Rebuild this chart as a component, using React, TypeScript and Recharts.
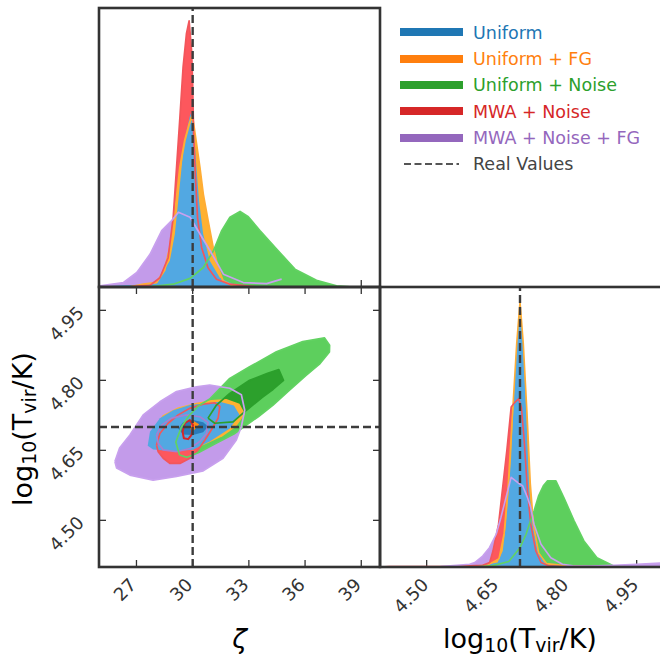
import React from 'react';
import { ComposedChart, Scatter, XAxis, YAxis, ReferenceLine } from 'recharts';

type Pt = [number, number];

const zetaTicks = [27, 30, 33, 36, 39];
const tvirTicks = [4.5, 4.65, 4.8, 4.95];
const zetaRange: [number, number] = [25, 40];
const tvirRange: [number, number] = [4.4, 5.0];
const pdfRange: [number, number] = [0, 1];
const trueZeta = 30;
const trueTvir = 4.7;

const runNames = ['Uniform', 'Uniform + FG', 'Uniform + Noise', 'MWA + Noise', 'MWA + Noise + FG'];
const runColors = ['#1f77b4', '#ff7f0e', '#2ca02c', '#d62728', '#9467bd'];
const realLabel = 'Real Values';

// 1D marginal of zeta (normalised to panel height)
const zetaUniform: Pt[] = [
  [25, 0], [25.06, 0.002], [26.3, 0.006], [27.2, 0.008], [27.72, 0.01], [28.25, 0.033], [28.78, 0.094],
  [29.05, 0.19], [29.23, 0.309], [29.5, 0.49], [29.64, 0.549], [29.88, 0.622], [30.0, 0.6], [30.08, 0.549],
  [30.2, 0.429], [30.34, 0.309], [30.56, 0.19], [30.91, 0.094], [31.45, 0.033], [32.2, 0.01], [33.0, 0.004],
  [34.5, 0.003], [37, 0.002], [38.75, 0.001], [39, 0],
];
const zetaUniformFG: Pt[] = [
  [26.66, 0], [27.37, 0.01], [28.07, 0.016], [28.5, 0.06], [28.78, 0.141], [29.05, 0.261], [29.32, 0.429],
  [29.58, 0.525], [29.8, 0.58], [29.94, 0.609], [30.02, 0.597], [30.2, 0.513], [30.38, 0.429], [30.56, 0.333],
  [30.82, 0.237], [31.09, 0.141], [31.36, 0.069], [31.62, 0.022], [32.16, 0.004], [33, 0],
];
const zetaUniformNoise: Pt[] = [
  [27.55, 0], [28.97, 0.01], [29.86, 0.031], [30.57, 0.07], [31.11, 0.13], [31.55, 0.202], [31.99, 0.25],
  [32.53, 0.271], [32.97, 0.252], [33.59, 0.202], [34.48, 0.136], [35.46, 0.064], [36.61, 0.024],
  [37.68, 0.004], [38.57, 0],
];
const zetaMwaNoise: Pt[] = [
  [26.5, 0], [27.2, 0.004], [27.72, 0.006], [28.25, 0.033], [28.69, 0.105], [28.96, 0.249], [29.14, 0.429],
  [29.32, 0.609], [29.49, 0.789], [29.67, 0.909], [29.81, 0.954], [29.94, 0.849], [30.0, 0.729],
  [30.05, 0.549], [30.14, 0.405], [30.26, 0.249], [30.48, 0.141], [30.82, 0.069], [31.27, 0.028],
  [31.98, 0.01], [32.87, 0.004], [33.5, 0],
];
const zetaMwaNoiseFG: Pt[] = [
  [25, 0.002], [25.06, 0.004], [26.31, 0.016], [27.02, 0.052], [27.73, 0.118], [28.35, 0.202], [28.88, 0.238],
  [29.24, 0.268], [29.86, 0.25], [30.39, 0.19], [30.93, 0.13], [31.64, 0.046], [32.7, 0.016], [33.95, 0.012],
  [34.75, 0.028],
];

// 1D marginal of log10(Tvir)
const tvirUniform: Pt[] = [
  [4.4, 0], [4.45, 0.002], [4.55, 0.003], [4.592, 0.004], [4.62, 0.006], [4.652, 0.016], [4.663, 0.057],
  [4.67, 0.153], [4.676, 0.272], [4.681, 0.392], [4.686, 0.571], [4.691, 0.75], [4.696, 0.87], [4.7, 0.9],
  [4.704, 0.87], [4.708, 0.75], [4.713, 0.571], [4.717, 0.392], [4.72, 0.272], [4.727, 0.153],
  [4.738, 0.057], [4.752, 0.016], [4.805, 0.005], [4.869, 0.004], [4.95, 0.002], [5.0, 0],
];
const tvirUniformFG: Pt[] = [
  [4.5, 0], [4.58, 0.002], [4.63, 0.006], [4.655, 0.03], [4.666, 0.12], [4.675, 0.3], [4.684, 0.55],
  [4.693, 0.8], [4.7, 0.947], [4.707, 0.8], [4.715, 0.55], [4.722, 0.3], [4.729, 0.15], [4.74, 0.05],
  [4.757, 0.012], [4.8, 0.004], [4.85, 0.002], [4.92, 0],
];
const tvirUniformNoise: Pt[] = [
  [4.6, 0], [4.64, 0.004], [4.676, 0.02], [4.7, 0.069], [4.713, 0.117], [4.72, 0.153], [4.73, 0.2],
  [4.74, 0.255], [4.75, 0.29], [4.759, 0.308], [4.777, 0.308], [4.794, 0.248], [4.816, 0.165],
  [4.837, 0.093], [4.865, 0.033], [4.901, 0.004], [4.92, 0],
];
const tvirMwaNoise: Pt[] = [
  [4.4, 0], [4.42, 0.002], [4.55, 0.002], [4.62, 0.006], [4.635, 0.016], [4.642, 0.057], [4.654, 0.153],
  [4.662, 0.272], [4.672, 0.42], [4.681, 0.571], [4.69, 0.59], [4.697, 0.601], [4.703, 0.57],
  [4.709, 0.452], [4.716, 0.272], [4.723, 0.153], [4.734, 0.057], [4.745, 0.016], [4.762, 0.004], [4.8, 0],
];
const tvirMwaNoiseFG: Pt[] = [
  [4.45, 0], [4.53, 0.002], [4.592, 0.01], [4.603, 0.016], [4.62, 0.039], [4.6345, 0.069], [4.649, 0.117],
  [4.659, 0.176], [4.67, 0.248], [4.681, 0.32], [4.6996, 0.296], [4.7056, 0.29], [4.716, 0.248],
  [4.723, 0.213], [4.73, 0.153], [4.745, 0.081], [4.766, 0.033], [4.791, 0.01], [4.813, 0.004],
  [4.85, 0.003], [4.9, 0.006], [4.95, 0.01], [5.0, 0.014],
];

// 2D credible contours (zeta, log10 Tvir)
const jointMwaNoiseFGOuter: Pt[] = [
  [25.85, 4.626], [26.1, 4.655], [26.65, 4.683], [27.36, 4.726], [28.25, 4.754], [29.14, 4.776],
  [30.2, 4.786], [30.91, 4.79], [31.98, 4.783], [32.6, 4.769], [32.78, 4.736], [32.6, 4.701],
  [32.33, 4.672], [31.62, 4.633], [30.56, 4.606], [29.14, 4.594], [27.89, 4.586], [26.65, 4.597],
  [25.94, 4.612],
];
const jointMwaNoiseFGInner: Pt[] = [
  [28.07, 4.683], [28.34, 4.704], [28.87, 4.719], [29.67, 4.726], [30.38, 4.722], [30.82, 4.71],
  [30.74, 4.686], [30.38, 4.669], [29.85, 4.654], [29.14, 4.647], [28.43, 4.651], [28.16, 4.665],
];
const jointUniformNoiseOuter: Pt[] = [
  [29.3, 4.64], [29.1, 4.668], [29.4, 4.7], [29.76, 4.722], [30.3, 4.745], [30.91, 4.76], [31.98, 4.804],
  [33.04, 4.829], [34.47, 4.861], [35.88, 4.883], [37.04, 4.891], [37.31, 4.875], [37.3, 4.861],
  [36.8, 4.836], [36.07, 4.811], [35.2, 4.78], [34.29, 4.747], [33.5, 4.722], [32.87, 4.704],
  [32.2, 4.685], [31.2, 4.664], [30.3, 4.645], [29.7, 4.635],
];
const jointUniformNoiseInner: Pt[] = [
  [30.82, 4.719], [31.27, 4.747], [31.98, 4.772], [33.04, 4.8], [34.0, 4.815], [34.6, 4.823], [34.85, 4.8],
  [34.3, 4.781], [33.7, 4.763], [33.0, 4.74], [32.78, 4.733], [32.16, 4.711], [31.18, 4.708],
];
const jointMwaNoiseOuter: Pt[] = [
  [28.07, 4.661], [28.25, 4.686], [28.69, 4.708], [29.23, 4.726], [29.85, 4.74], [30.56, 4.749],
  [31.18, 4.752], [31.45, 4.744], [31.36, 4.719], [31.0, 4.694], [30.65, 4.672], [30.29, 4.651],
  [29.85, 4.633], [29.32, 4.622], [28.78, 4.622], [28.43, 4.633], [28.16, 4.647],
];
const jointMwaNoiseInner: Pt[] = [
  [29.58, 4.708], [29.85, 4.715], [30.02, 4.704], [29.94, 4.683], [29.76, 4.674], [29.53, 4.676], [29.46, 4.69],
];
const jointUniformFGOuter: Pt[] = [
  [27.85, 4.668], [27.89, 4.697], [28.4, 4.725], [29.2, 4.742], [30.2, 4.752], [31.0, 4.758], [31.8, 4.76],
  [32.5, 4.75], [32.8, 4.728], [32.3, 4.7], [31.6, 4.68], [30.56, 4.661], [29.5, 4.652], [28.5, 4.652],
];
const jointUniformFGInner: Pt[] = [
  [29.85, 4.7], [30.05, 4.713], [30.35, 4.706], [30.12, 4.695], [29.95, 4.69],
];
const jointUniformOuter: Pt[] = [
  [27.6, 4.66], [27.72, 4.69], [28.25, 4.719], [28.96, 4.736], [29.85, 4.747], [30.74, 4.751], [31.45, 4.754],
  [32.2, 4.746], [32.5, 4.726], [31.98, 4.697], [30.91, 4.669], [30.02, 4.651], [28.96, 4.648], [27.89, 4.652],
];
const jointUniformInner: Pt[] = [
  [29.23, 4.697], [29.49, 4.71], [30.02, 4.715], [30.56, 4.71], [30.82, 4.701], [30.56, 4.689],
  [30.02, 4.683], [29.49, 4.684],
];

const fillBlue = '#52a8e2';
const fillOrange = '#ffb131';
const fillGreen = '#5dcf5d';
const fillRed = '#fd575d';
const fillPurple = '#c39bea';
const lineOrange = '#ffad35';
const lineRed = '#f2565b';
const lineGreen = '#62d262';
const linePurple = '#c8a0ee';
const darkBlue = '#2a7bba';
const darkGreen = '#2ca02c';
const darkRed = '#d62728';
const midPurple = '#a57fd2';
const darkOrange = '#ff8c1a';

const axisInk = '#333';
const font = 'DejaVu Sans';

const toXY = (pts: Pt[]) => pts.map(([x, y]) => ({ x, y }));
const toArea = (pts: Pt[]) => toXY([[pts[0][0], 0], ...pts, [pts[pts.length - 1][0], 0]]);
const toRing = (pts: Pt[]) => toXY([...pts, pts[0]]);

const NoDot = () => <g />;
const NoTick = () => <g />;

const filled = (id: string, data: { x: number; y: number }[], color: string) => (
  <Scatter key={id} data={data} shape={NoDot} lineType="joint" line={{ fill: color, stroke: 'none' }} isAnimationActive={false} />
);
const stroked = (id: string, data: { x: number; y: number }[], color: string, w = 1.7) => (
  <Scatter key={id} data={data} shape={NoDot} lineType="joint"
    line={{ fill: 'none', stroke: color, strokeWidth: w, strokeLinejoin: 'round' }} isAnimationActive={false} />
);

const ZetaLabel = (props: any) => {
  const { x, y, payload } = props;
  const px = x + 1;
  return (
    <text x={px} y={y} transform={`rotate(-45 ${px} ${y})`} textAnchor="end" fontSize={18} fill={axisInk} fontFamily={font}>
      {String(payload.value)}
    </text>
  );
};
const TvirXLabel = (props: any) => {
  const { x, y, payload } = props;
  const px = x + 3;
  return (
    <text x={px} y={y} transform={`rotate(-45 ${px} ${y})`} textAnchor="end" fontSize={18} fill={axisInk} fontFamily={font}>
      {Number(payload.value).toFixed(2)}
    </text>
  );
};
const TvirYLabel = (props: any) => {
  const { x, y, payload } = props;
  const py = y + 3.5;
  return (
    <text x={x} y={py} transform={`rotate(-45 ${x} ${py})`} textAnchor="end" fontSize={18} fill={axisInk} fontFamily={font}>
      {Number(payload.value).toFixed(2)}
    </text>
  );
};

const tickStyle = { stroke: axisInk, strokeWidth: 1.3 };
const dash = { stroke: '#3c3c3c', strokeWidth: 2.4, strokeDasharray: '8 4', zIndex: 1000 };

const Sub = ({ children }: { children: React.ReactNode }) => (
  <span style={{ fontSize: '0.7em', position: 'relative', top: '0.2em' }}>{children}</span>
);
const TvirTitle = () => (
  <span>log<Sub>10</Sub>(T<Sub>vir</Sub>/K)</span>
);

export default function App() {
  return (
    <div style={{ position: 'absolute', left: 0, top: 0, width: 660, height: 658, overflow: 'hidden', background: '#fff', fontFamily: font }}>
      {/* zeta marginal */}
      <div style={{ position: 'absolute', left: 0, top: 0 }}>
        <ComposedChart width={400} height={300} margin={{ top: 8, right: 20, bottom: 0, left: 99 }}>
          <XAxis type="number" dataKey="x" domain={zetaRange} ticks={zetaTicks} allowDataOverflow height={13}
            tickSize={-7} tickLine={tickStyle} axisLine={false} tick={NoTick} interval={0} />
          <YAxis type="number" dataKey="y" domain={pdfRange} allowDataOverflow hide />
          {filled('p', toArea(zetaMwaNoiseFG), fillPurple)}
          {filled('g', toArea(zetaUniformNoise), fillGreen)}
          {filled('r', toArea(zetaMwaNoise), fillRed)}
          {filled('o', toArea(zetaUniformFG), fillOrange)}
          {filled('b', toArea(zetaUniform), fillBlue)}
          {stroked('ol', toXY(zetaUniformFG), lineOrange, 2)}
          {stroked('rl', toXY(zetaMwaNoise), lineRed)}
          {stroked('gl', toXY(zetaUniformNoise), lineGreen)}
          {stroked('pl', toXY(zetaMwaNoiseFG), linePurple)}
          <ReferenceLine x={trueZeta} {...dash} />
        </ComposedChart>
      </div>

      {/* joint posterior */}
      <div style={{ position: 'absolute', left: 0, top: 280 }}>
        <ComposedChart width={400} height={378} margin={{ top: 6, right: 19, bottom: 0, left: 0 }}>
          <XAxis type="number" dataKey="x" domain={zetaRange} ticks={zetaTicks} allowDataOverflow height={91}
            tickSize={-7} tickMargin={26} tickLine={tickStyle} axisLine={false} tick={ZetaLabel} interval={0} />
          <XAxis xAxisId="top" orientation="top" type="number" dataKey="x" domain={zetaRange} ticks={zetaTicks}
            allowDataOverflow height={1} tickSize={-7} tickLine={tickStyle} axisLine={false} tick={NoTick} interval={0} />
          <YAxis type="number" dataKey="y" domain={tvirRange} ticks={tvirTicks} allowDataOverflow width={99}
            tickSize={-7} tickMargin={21} tickLine={tickStyle} axisLine={false} tick={TvirYLabel} interval={0} />
          <YAxis yAxisId="right" orientation="right" type="number" dataKey="y" domain={tvirRange} ticks={tvirTicks}
            allowDataOverflow width={1} tickSize={-7} tickLine={tickStyle} axisLine={false} tick={NoTick} interval={0} />
          {filled('po', toRing(jointMwaNoiseFGOuter), fillPurple)}
          {filled('go', toRing(jointUniformNoiseOuter), fillGreen)}
          {filled('gi', toRing(jointUniformNoiseInner), darkGreen)}
          {filled('ro', toRing(jointMwaNoiseOuter), fillRed)}
          {filled('oo', toRing(jointUniformFGOuter), fillOrange)}
          {filled('bo', toRing(jointUniformOuter), fillBlue)}
          {filled('bi', toRing(jointUniformInner), darkBlue)}
          {filled('oi', toRing(jointUniformFGInner), darkOrange)}
          {stroked('rol', toRing(jointMwaNoiseOuter), lineRed)}
          {stroked('ril', toRing(jointMwaNoiseInner), darkRed, 2)}
          {stroked('pil', toRing(jointMwaNoiseFGInner), midPurple)}
          {stroked('gil', toRing(jointUniformNoiseInner), darkGreen)}
          {stroked('gol', toRing(jointUniformNoiseOuter), lineGreen)}
          {stroked('pol', toRing(jointMwaNoiseFGOuter), linePurple)}
          <ReferenceLine x={trueZeta} {...dash} />
          <ReferenceLine y={trueTvir} {...dash} />
        </ComposedChart>
      </div>

      {/* Tvir marginal */}
      <div style={{ position: 'absolute', left: 380, top: 280 }}>
        <ComposedChart width={300} height={378} margin={{ top: 7, right: 20, bottom: 0, left: 0 }}>
          <XAxis type="number" dataKey="x" domain={tvirRange} ticks={tvirTicks} allowDataOverflow height={91}
            tickSize={-7} tickMargin={26} tickLine={tickStyle} axisLine={false} tick={TvirXLabel} interval={0} />
          <YAxis type="number" dataKey="y" domain={pdfRange} allowDataOverflow hide />
          {filled('p', toArea(tvirMwaNoiseFG), fillPurple)}
          {filled('g', toArea(tvirUniformNoise), fillGreen)}
          {filled('r', toArea(tvirMwaNoise), fillRed)}
          {filled('o', toArea(tvirUniformFG), fillOrange)}
          {filled('b', toArea(tvirUniform), fillBlue)}
          {stroked('ol', toXY(tvirUniformFG), lineOrange, 1.6)}
          {stroked('rl', toXY(tvirMwaNoise), lineRed, 1.6)}
          {stroked('gl', toXY(tvirUniformNoise), lineGreen, 1.6)}
          {stroked('pl', toXY(tvirMwaNoiseFG), linePurple, 1.6)}
          <ReferenceLine x={trueTvir} {...dash} />
        </ComposedChart>
      </div>

      {/* panel frames */}
      <svg width={660} height={658} style={{ position: 'absolute', left: 0, top: 0, pointerEvents: 'none' }}>
        <rect x={99} y={8} width={281} height={279} fill="none" stroke={axisInk} strokeWidth={2.6} />
        <rect x={99} y={287} width={281} height={280} fill="none" stroke={axisInk} strokeWidth={2.6} />
        <rect x={380} y={287} width={284} height={280} fill="none" stroke={axisInk} strokeWidth={2.6} />
      </svg>

      {/* legend */}
      {runNames.map((name, i) => {
        const cy = 32.3 + i * 26.35;
        return (
          <React.Fragment key={name}>
            <div style={{ position: 'absolute', left: 400, top: cy - 4, width: 63, height: 8, background: runColors[i] }} />
            <div style={{ position: 'absolute', left: 473, top: cy - 9.7, fontSize: 17.5, lineHeight: '20px', color: runColors[i], whiteSpace: 'nowrap' }}>
              {name}
            </div>
          </React.Fragment>
        );
      })}
      <svg width={60} height={6} style={{ position: 'absolute', left: 403, top: 161 }}>
        <line x1={1} y1={3} x2={56} y2={3} stroke="#555" strokeWidth={2} strokeDasharray="7 3.5" />
      </svg>
      <div style={{ position: 'absolute', left: 473, top: 32.3 + 5 * 26.35 - 9.7, fontSize: 17.5, lineHeight: '20px', color: '#444', whiteSpace: 'nowrap' }}>
        {realLabel}
      </div>

      {/* axis titles */}
      <div style={{ position: 'absolute', left: 239.5, top: 625, transform: 'translateX(-50%)', fontSize: 27, lineHeight: '27px', fontStyle: 'italic', color: '#000' }}>
        ζ
      </div>
      <div style={{ position: 'absolute', left: 520, top: 625, transform: 'translateX(-50%)', fontSize: 27, lineHeight: '27px', color: '#000', whiteSpace: 'nowrap' }}>
        <TvirTitle />
      </div>
      <div style={{ position: 'absolute', left: 24, top: 429, transform: 'translate(-50%, -50%) rotate(-90deg)', fontSize: 27, lineHeight: '27px', color: '#000', whiteSpace: 'nowrap' }}>
        <TvirTitle />
      </div>
    </div>
  );
}
